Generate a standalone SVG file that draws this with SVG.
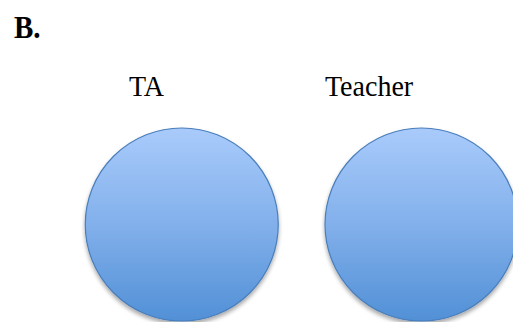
<svg xmlns="http://www.w3.org/2000/svg" width="513" height="322" viewBox="0 0 513 322">
<defs>
<linearGradient id="g" x1="0" y1="0" x2="0" y2="1">
<stop offset="0" stop-color="#a9cbfb"/>
<stop offset="0.5" stop-color="#82b0eb"/>
<stop offset="1" stop-color="#5190d6"/>
</linearGradient>
<filter id="sh" x="-20%" y="-20%" width="140%" height="140%">
<feGaussianBlur in="SourceAlpha" stdDeviation="2"/>
<feOffset dy="3" result="b"/>
<feComponentTransfer><feFuncA type="linear" slope="0.35"/></feComponentTransfer>
<feMerge><feMergeNode/><feMergeNode in="SourceGraphic"/></feMerge>
</filter>
<style>
.c{fill:url(#g);stroke:#4a7ebb;stroke-width:1.2;filter:url(#sh)}
.t{font-family:"Liberation Serif",serif;font-size:28px;fill:#000}
.h{font-family:"Liberation Serif",serif;font-size:29px;font-weight:bold;fill:#000}
</style>
</defs>
<rect width="513" height="322" fill="#fff"/>
<text class="h" x="14" y="38" transform="translate(0,38) scale(1,1.08) translate(0,-38)">B.</text>
<g id="ta">
<text class="t" x="129" y="96.5" transform="translate(0,96.5) scale(1,1.08) translate(0,-96.5)">TA</text>
<circle class="c" cx="181.75" cy="224.5" r="96.5"/>
</g>
<g id="teacher">
<text class="t" x="325" y="96.5" transform="translate(0,96.5) scale(1,1.08) translate(0,-96.5)">Teacher</text>
<circle class="c" cx="421.5" cy="224.5" r="96.5"/>
</g>
<g id="connectors"/>
</svg>
